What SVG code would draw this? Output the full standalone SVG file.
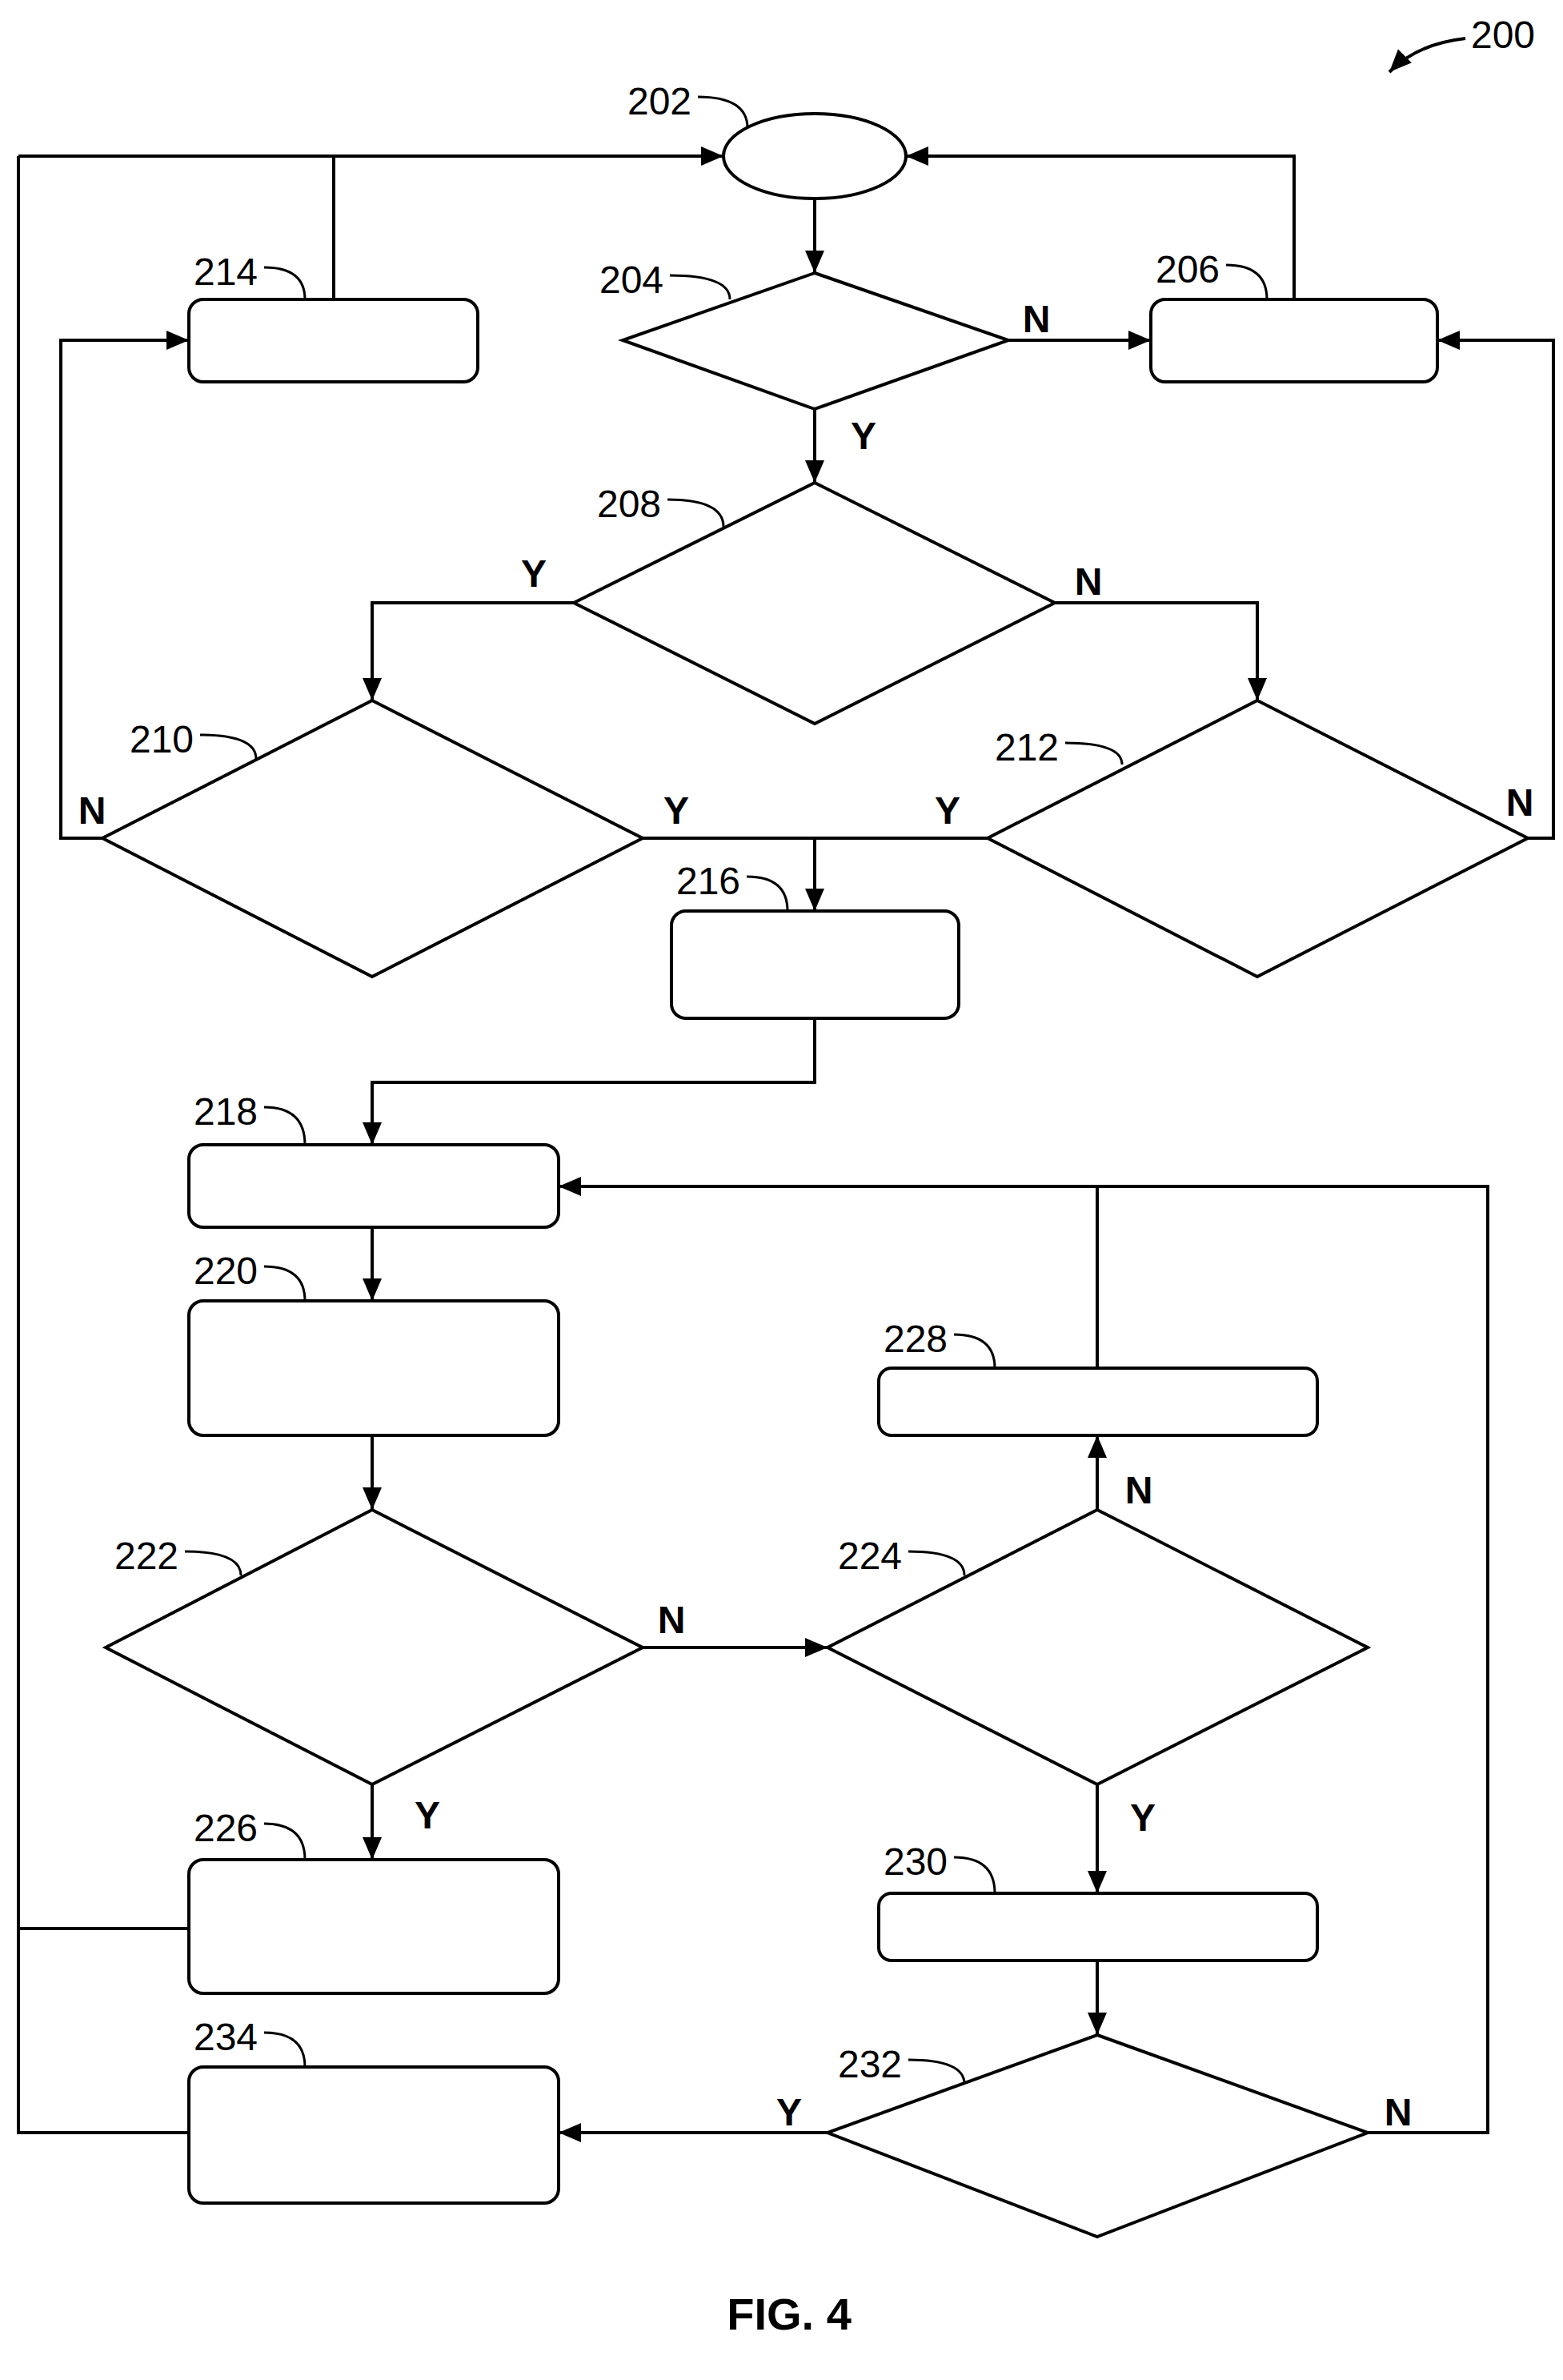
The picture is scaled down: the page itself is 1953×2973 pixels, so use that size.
<svg xmlns="http://www.w3.org/2000/svg" width="1953" height="2973" viewBox="0 0 1953 2973">
<style>
.s{fill:#fff;stroke:#000;stroke-width:4}
.c{fill:none;stroke:#000;stroke-width:4}
.l{fill:none;stroke:#000;stroke-width:3}
.r{font-family:"Liberation Sans",Arial,sans-serif;font-size:48px;text-anchor:middle}
.yn{font-family:"Liberation Sans",Arial,sans-serif;font-size:48px;font-weight:bold;text-anchor:middle}
</style>
<defs><marker id="a" markerWidth="8" markerHeight="8" refX="7" refY="4" orient="auto" markerUnits="strokeWidth"><path d="M0,1 L7,4 L0,7 z" fill="#000"/></marker></defs>
<rect width="1953" height="2973" fill="#fff"/>
<g id="connectors">
<path class="c" d="M23,195 H904" marker-end="url(#a)"/>
<path class="c" d="M1617,374 V195 H1132" marker-end="url(#a)"/>
<path class="c" d="M23,195 V2664 H236"/>
<path class="c" d="M23,2409 H236"/>
<path class="c" d="M417,195 V374"/>
<path class="c" d="M1018,248 V341" marker-end="url(#a)"/>
<path class="c" d="M1260,425 H1438" marker-end="url(#a)"/>
<path class="c" d="M1018,511 V603" marker-end="url(#a)"/>
<path class="c" d="M717,753 H465 V875" marker-end="url(#a)"/>
<path class="c" d="M1318,753 H1571 V875" marker-end="url(#a)"/>
<path class="c" d="M128,1047 H76 V425 H236" marker-end="url(#a)"/>
<path class="c" d="M1909,1047 H1941 V425 H1796" marker-end="url(#a)"/>
<path class="c" d="M803,1047 H1234"/>
<path class="c" d="M1018,1047 V1138" marker-end="url(#a)"/>
<path class="c" d="M1018,1272 V1352 H465 V1430" marker-end="url(#a)"/>
<path class="c" d="M465,1533 V1625" marker-end="url(#a)"/>
<path class="c" d="M465,1793 V1886" marker-end="url(#a)"/>
<path class="c" d="M803,2058 H1034" marker-end="url(#a)"/>
<path class="c" d="M1371,1886 V1793" marker-end="url(#a)"/>
<path class="c" d="M1371,1709 V1482"/>
<path class="c" d="M1709,2664 H1859 V1482 H698" marker-end="url(#a)"/>
<path class="c" d="M1371,2229 V2365" marker-end="url(#a)"/>
<path class="c" d="M1371,2449 V2542" marker-end="url(#a)"/>
<path class="c" d="M1034,2664 H698" marker-end="url(#a)"/>
<path class="c" d="M465,2229 V2323" marker-end="url(#a)"/>
<path class="c" d="M1831,48 Q1770,55 1736,90" marker-end="url(#a)"/>
</g>
<g id="n202"><ellipse class="s" cx="1018" cy="195" rx="114" ry="53"/></g>
<g id="n214"><rect class="s" x="236" y="374" width="361" height="103" rx="18"/></g>
<g id="n206"><rect class="s" x="1438" y="374" width="358" height="103" rx="18"/></g>
<g id="n204"><polygon class="s" points="1018,341 1260,425 1018,511 778,425"/></g>
<g id="n208"><polygon class="s" points="1018,603 1318,753 1018,904 717,753"/></g>
<g id="n210"><polygon class="s" points="465,875 803,1047 465,1220 128,1047"/></g>
<g id="n212"><polygon class="s" points="1571,875 1909,1047 1571,1220 1234,1047"/></g>
<g id="n216"><rect class="s" x="839" y="1138" width="359" height="134" rx="18"/></g>
<g id="n218"><rect class="s" x="236" y="1430" width="462" height="103" rx="18"/></g>
<g id="n220"><rect class="s" x="236" y="1625" width="462" height="168" rx="18"/></g>
<g id="n228"><rect class="s" x="1098" y="1709" width="548" height="84" rx="16"/></g>
<g id="n222"><polygon class="s" points="465,1886 803,2058 465,2229 132,2058"/></g>
<g id="n224"><polygon class="s" points="1371,1886 1709,2058 1371,2229 1034,2058"/></g>
<g id="n226"><rect class="s" x="236" y="2323" width="462" height="167" rx="18"/></g>
<g id="n230"><rect class="s" x="1098" y="2365" width="548" height="84" rx="16"/></g>
<g id="n232"><polygon class="s" points="1371,2542 1709,2664 1371,2794 1034,2664"/></g>
<g id="n234"><rect class="s" x="236" y="2582" width="462" height="170" rx="18"/></g>
<g id="labels">
<text class="r" x="1878" y="60">200</text>
<text class="r" x="824" y="143">202</text><path class="l" d="M872,121 Q934,121 934,160"/>
<text class="r" x="789" y="366">204</text><path class="l" d="M837,344 Q912,344 912,374"/>
<text class="r" x="1484" y="353">206</text><path class="l" d="M1532,331 Q1583,331 1583,374"/>
<text class="r" x="786" y="646">208</text><path class="l" d="M834,624 Q904,624 904,658"/>
<text class="r" x="282" y="356">214</text><path class="l" d="M330,334 Q381,334 381,374"/>
<text class="r" x="202" y="940">210</text><path class="l" d="M250,918 Q320,918 320,948"/>
<text class="r" x="1283" y="950">212</text><path class="l" d="M1331,928 Q1402,928 1402,955"/>
<text class="r" x="885" y="1117">216</text><path class="l" d="M933,1095 Q984,1095 984,1138"/>
<text class="r" x="282" y="1405">218</text><path class="l" d="M330,1383 Q381,1383 381,1430"/>
<text class="r" x="282" y="1604">220</text><path class="l" d="M330,1582 Q381,1582 381,1625"/>
<text class="r" x="1144" y="1689">228</text><path class="l" d="M1192,1667 Q1243,1667 1243,1709"/>
<text class="r" x="183" y="1960">222</text><path class="l" d="M231,1938 Q301,1938 301,1968"/>
<text class="r" x="1087" y="1960">224</text><path class="l" d="M1135,1938 Q1205,1938 1205,1968"/>
<text class="r" x="282" y="2300">226</text><path class="l" d="M330,2278 Q381,2278 381,2323"/>
<text class="r" x="1144" y="2342">230</text><path class="l" d="M1192,2320 Q1243,2320 1243,2365"/>
<text class="r" x="1087" y="2595">232</text><path class="l" d="M1135,2573 Q1205,2573 1205,2603"/>
<text class="r" x="282" y="2561">234</text><path class="l" d="M330,2539 Q381,2539 381,2582"/>
<text class="yn" x="1295" y="415">N</text>
<text class="yn" x="1079" y="561">Y</text>
<text class="yn" x="667" y="733">Y</text>
<text class="yn" x="1360" y="743">N</text>
<text class="yn" x="115" y="1029">N</text>
<text class="yn" x="845" y="1029">Y</text>
<text class="yn" x="1184" y="1029">Y</text>
<text class="yn" x="1899" y="1019">N</text>
<text class="yn" x="839" y="2040">N</text>
<text class="yn" x="1423" y="1878">N</text>
<text class="yn" x="1428" y="2287">Y</text>
<text class="yn" x="534" y="2284">Y</text>
<text class="yn" x="986" y="2655">Y</text>
<text class="yn" x="1747" y="2655">N</text>
<text class="yn" x="986" y="2910" style="font-size:56px">FIG. 4</text>
</g>
</svg>
